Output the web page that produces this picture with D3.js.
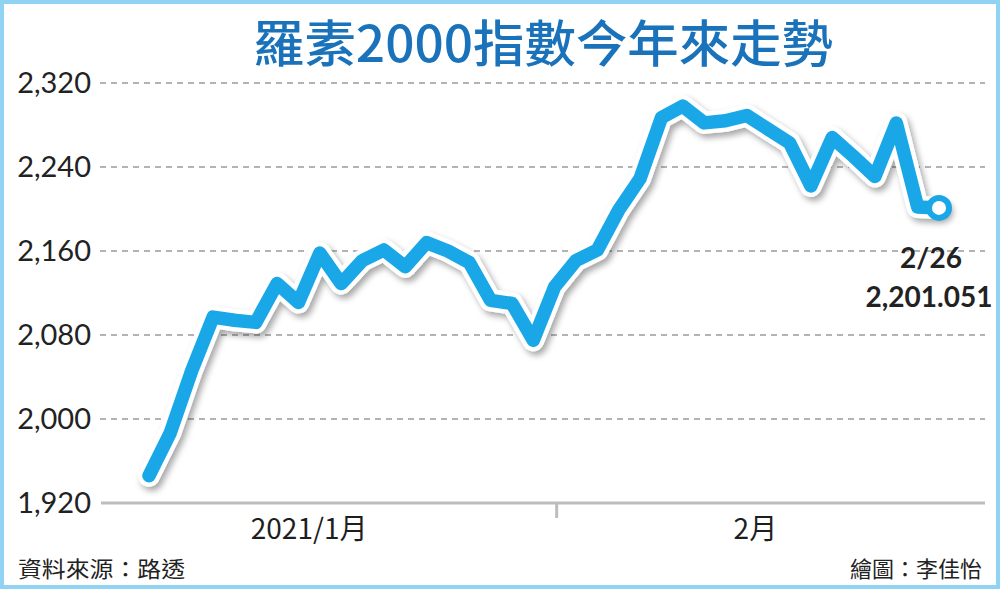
<!DOCTYPE html>
<html><head><meta charset="utf-8">
<script src="https://cdn.jsdelivr.net/npm/d3@7"></script>
<style>body{margin:0;background:#fff} svg{display:block}</style>
</head><body><svg id="c" width="1000" height="589"></svg>
<script>
const dates = ["1/4","1/5","1/6","1/7","1/8","1/11","1/12","1/13","1/14","1/15","1/19","1/20","1/21","1/22","1/25","1/26","1/27","1/28","1/29",
  "2/1","2/2","2/3","2/4","2/5","2/8","2/9","2/10","2/11","2/12","2/16","2/17","2/18","2/19","2/22","2/23","2/24","2/25","2/26"];
const values = [1946,1987,2046,2097,2094,2092,2129,2111,2158,2129,2151,2161,2145,2168,2160,2149,2113,2110,2075,
  2126,2151,2161,2199,2229,2287,2298,2282,2284,2289,2276,2263,2222,2268,2250,2231,2282,2202,2201.051];
const yTicks = [1920,2000,2080,2160,2240,2320];
const monthLabels = ["2021/1月","2月"];
const monthLabelAt = [7.5, 28.4];
const monthBoundaryAt = ["2/1"];
const title = "羅素2000指數今年來走勢";
const source = "資料來源：路透";
const credit = "繪圖：李佳怡";
const lastDateLabel = "2/26";
const lastValueLabel = "2,201.051";

const svg = d3.select("#c");
const defs = svg.append("defs");
const f = defs.append("filter").attr("id","sh").attr("x","-10%").attr("y","-10%").attr("width","120%").attr("height","130%");
f.append("feDropShadow").attr("dx",3).attr("dy",4).attr("stdDeviation",3).attr("flood-color","#000").attr("flood-opacity",0.35);

svg.append("rect").attr("x",2).attr("y",2).attr("width",996).attr("height",585)
  .attr("fill","#fff").attr("stroke","#90d3f3").attr("stroke-width",4);

const x = d3.scaleLinear().domain([0, dates.length-1]).range([149, 939]);
const y = d3.scaleLinear().domain([1920, 2320]).range([503, 83]);

// grid
svg.append("g").selectAll("line").data(yTicks.filter(t=>t!==yTicks[0])).join("line")
  .attr("x1",100).attr("x2",985).attr("y1",d=>y(d)).attr("y2",d=>y(d))
  .attr("stroke","#9a9a9a").attr("stroke-width",1.3).attr("stroke-dasharray","6,5");
// base axis
svg.append("line").attr("x1",101).attr("x2",985).attr("y1",y(yTicks[0])).attr("y2",y(yTicks[0]))
  .attr("stroke","#bdbdbd").attr("stroke-width",3);
monthBoundaryAt.forEach(d=>{
  const xx = x(dates.indexOf(d)) + 2;
  svg.append("line").attr("x1",xx).attr("x2",xx).attr("y1",y(yTicks[0])).attr("y2",y(yTicks[0])+15)
    .attr("stroke","#bdbdbd").attr("stroke-width",3);
});

// y labels
const fmt = d3.format(",");
svg.append("g").selectAll("text").data(yTicks).join("text")
  .attr("x",91).attr("y",d=>y(d)+10).attr("text-anchor","end")
  .attr("font-family","Lato, 'Noto Sans', sans-serif").attr("font-size",29).attr("fill","#222")
  .text(d=>fmt(d));

// month labels
svg.append("g").selectAll("text").data(monthLabels).join("text")
  .attr("x",(d,i)=>x(monthLabelAt[i])).attr("y",539).attr("text-anchor","middle")
  .attr("font-family","'Liberation Sans Narrow','Noto Sans CJK TC',sans-serif").attr("font-size",28).attr("fill","#1e1e1e")
  .text(d=>d);

// line
const line = d3.line().x((d,i)=>x(i)).y(d=>y(d));
svg.append("path").datum(values).attr("d",line).attr("fill","none")
  .attr("stroke","#fff").attr("stroke-width",22).attr("stroke-linejoin","round").attr("stroke-linecap","round")
  .attr("filter","url(#sh)");
svg.append("path").datum(values).attr("d",line).attr("fill","none")
  .attr("stroke","#1aa7e8").attr("stroke-width",13.5).attr("stroke-linejoin","round").attr("stroke-linecap","round");
const li = values.length-1;
svg.append("circle").attr("cx",x(li)).attr("cy",y(values[li])).attr("r",10)
  .attr("fill","#fff").attr("stroke","#1aa7e8").attr("stroke-width",6);

// annotation
svg.append("text").attr("x",x(li)-8).attr("y",268).attr("text-anchor","middle")
  .attr("font-family","Lato, 'Noto Sans', sans-serif").attr("font-weight",700).attr("font-size",28).attr("fill","#222")
  .text(lastDateLabel);
svg.append("text").attr("x",x(li)-10).attr("y",307).attr("text-anchor","middle")
  .attr("font-family","Lato, 'Noto Sans', sans-serif").attr("font-weight",700).attr("font-size",28).attr("fill","#222")
  .text(lastValueLabel);

// title
svg.append("text").attr("x",253).attr("y",62).attr("textLength",580).attr("lengthAdjust","spacingAndGlyphs")
  .attr("font-family","'Noto Sans CJK TC',sans-serif").attr("font-weight",500).attr("font-size",50).attr("fill","#1a72bb")
  .text(title);

// footer
svg.append("text").attr("x",18).attr("y",577)
  .attr("font-family","'Noto Sans CJK TC',sans-serif").attr("font-size",22).attr("fill","#222")
  .attr("textLength",167).attr("lengthAdjust","spacingAndGlyphs").text(source);
svg.append("text").attr("x",982).attr("y",577).attr("text-anchor","end")
  .attr("font-family","'Noto Sans CJK TC',sans-serif").attr("font-size",22).attr("fill","#222")
  .text(credit);
</script></body></html>
